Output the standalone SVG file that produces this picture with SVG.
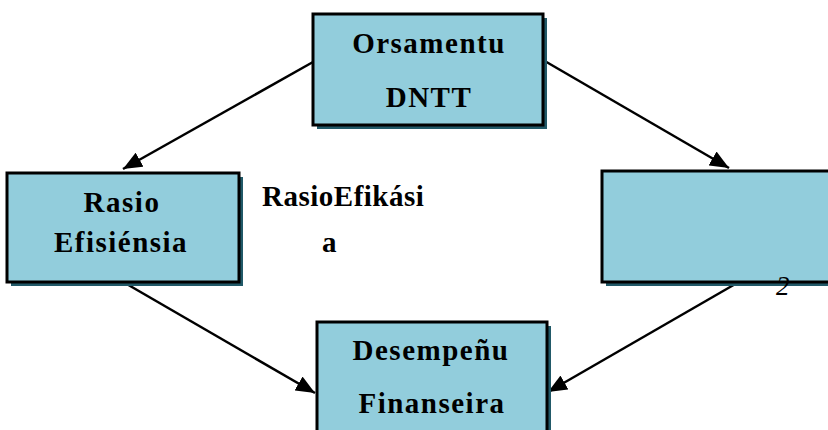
<svg xmlns="http://www.w3.org/2000/svg" width="828" height="430" viewBox="0 0 828 430">
<style>
.box{fill:#92cddc;stroke:#000;stroke-width:3}
.shadow{fill:#215968}
.t{font-family:'Liberation Serif','DejaVu Serif',serif;font-weight:bold;font-size:29px;letter-spacing:1.5px;fill:#000}
.c{text-anchor:middle}
.n{font-family:'Liberation Serif','DejaVu Serif',serif;font-style:italic;font-size:27px;fill:#000}
.conn{stroke:#000;stroke-width:2.5;fill:none;marker-end:url(#ah)}
</style>
<defs>
<marker id="ah" markerUnits="userSpaceOnUse" markerWidth="20" markerHeight="16" refX="19" refY="8" orient="auto">
<path d="M0,0 L19,8 L0,16 Z" fill="#000"/>
</marker>
</defs>
<rect width="828" height="430" fill="#fff"/>
<g id="connectors">
<line class="conn" x1="313" y1="62" x2="123" y2="169"/>
<line class="conn" x1="543" y1="60" x2="729" y2="168"/>
<line class="conn" x1="125" y1="283" x2="315" y2="393"/>
<line class="conn" x1="737" y1="283" x2="548" y2="392"/>
</g>
<g id="orsamentu">
<rect class="shadow" x="317" y="18" width="230" height="111"/>
<rect class="box" x="313" y="14" width="230" height="111"/>
<text class="t c" x="429" y="53">Orsamentu</text>
<text class="t c" x="429" y="107">DNTT</text>
</g>
<g id="rasio-efisiensia">
<rect class="shadow" x="11" y="177" width="232" height="109"/>
<rect class="box" x="7" y="173" width="232" height="109"/>
<text class="t c" x="122" y="212">Rasio</text>
<text class="t c" x="121" y="252">Efisiénsia</text>
</g>
<g id="rasio-efikasia">
<text class="t" x="262" y="206" style="letter-spacing:0.5px">RasioEfikási</text>
<text class="t" x="322" y="252">a</text>
</g>
<g id="right-box">
<rect class="shadow" x="606" y="175" width="240" height="111"/>
<rect class="box" x="602" y="171" width="240" height="111"/>
<text class="n" x="776" y="295">2</text>
</g>
<g id="desempenu">
<rect class="shadow" x="321" y="326" width="230" height="120"/>
<rect class="box" x="317" y="322" width="230" height="120"/>
<text class="t c" x="431" y="360">Desempeñu</text>
<text class="t c" x="432" y="413">Finanseira</text>
</g>
</svg>
